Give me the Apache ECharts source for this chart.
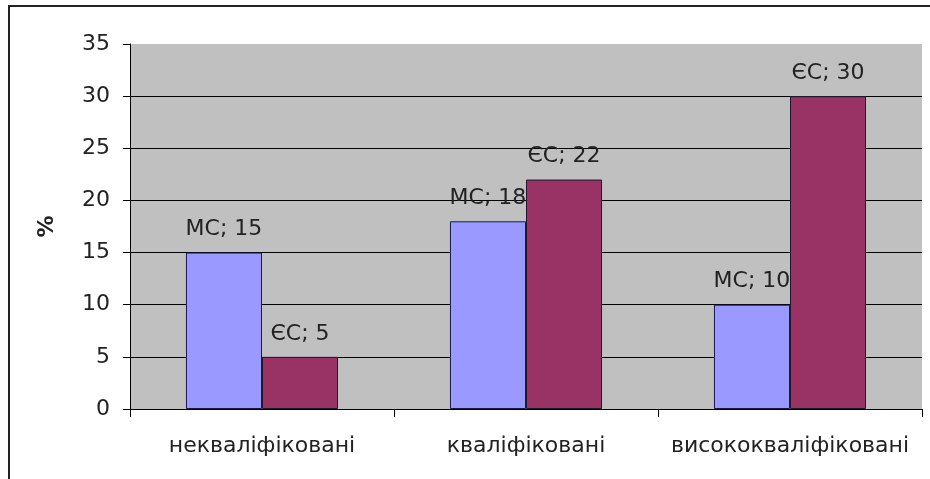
<!DOCTYPE html>
<html>
<head>
<meta charset="utf-8">
<script src="https://cdn.jsdelivr.net/npm/echarts@6/dist/echarts.min.js"></script>
<style>
html,body{margin:0;padding:0;background:#fff;}
#chart{width:930px;height:479px;}
</style>
</head>
<body>
<div id="chart"></div>
<script>
const categories = ['некваліфіковані', 'кваліфіковані', 'висококваліфіковані'];
const seriesNames = ['МС', 'ЄС'];
const valuesMS = [15, 18, 10];
const valuesES = [5, 22, 30];
const yTicks = { min: 0, max: 35, interval: 5 };

const FONT = 'DejaVu Sans';
const chart = echarts.init(document.getElementById('chart'));
const labelCfg = {
  show: true,
  position: 'top',
  distance: 12,
  formatter: '{a}; {c}',
  color: '#222',
  fontFamily: FONT,
  fontSize: 22
};
chart.setOption({
  animation: false,
  backgroundColor: '#fff',
  graphic: [{
    type: 'rect',
    shape: { x: 9, y: 6, width: 960, height: 520 },
    style: { fill: 'none', stroke: '#222', lineWidth: 2 },
    silent: true
  }],
  grid: {
    left: 130, top: 44, right: 8, bottom: 70,
    show: true, backgroundColor: '#C0C0C0', borderWidth: 0
  },
  xAxis: {
    type: 'category',
    data: categories,
    boundaryGap: true,
    axisLine: { lineStyle: { color: '#000', width: 1 } },
    axisTick: { show: true, length: 8, lineStyle: { color: '#000' } },
    axisLabel: { color: '#222', fontFamily: FONT, fontSize: 22, margin: 26, interval: 0 },
    splitLine: { show: false }
  },
  yAxis: {
    type: 'value',
    min: yTicks.min, max: yTicks.max, interval: yTicks.interval,
    name: '%',
    nameLocation: 'middle',
    nameGap: 72,
    nameTextStyle: { color: '#222', fontFamily: FONT, fontSize: 22, fontWeight: 'bold' },
    axisLine: { show: true, lineStyle: { color: '#000', width: 1 } },
    axisTick: { show: true, length: 7, lineStyle: { color: '#000' } },
    axisLabel: { color: '#222', fontFamily: FONT, fontSize: 22, margin: 20 },
    splitLine: { show: true, showMinLine: false, showMaxLine: false, lineStyle: { color: '#000', width: 1 } }
  },
  series: [
    {
      name: seriesNames[0], type: 'bar', data: valuesMS, z: 2,
      barGap: '0%', barCategoryGap: '42.4%',
      itemStyle: { color: '#9999FF', borderColor: '#1a1a4a', borderWidth: 1 },
      label: labelCfg
    },
    {
      name: seriesNames[1], type: 'bar', data: valuesES, z: 3,
      barGap: '0%', barCategoryGap: '42.4%',
      itemStyle: { color: '#993366', borderColor: '#1a1a2a', borderWidth: 1 },
      label: labelCfg
    }
  ]
});
</script>
</body>
</html>
